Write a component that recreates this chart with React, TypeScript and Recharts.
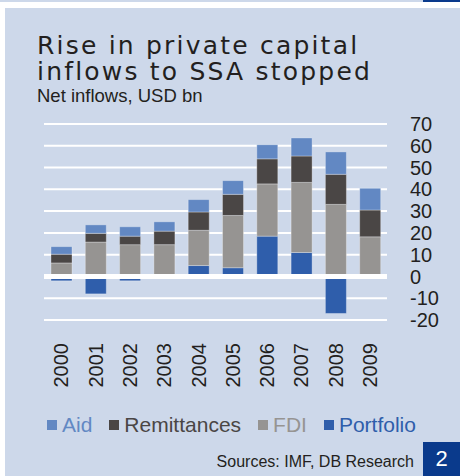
import { Bar, BarChart, CartesianGrid, ReferenceLine, XAxis, YAxis } from "recharts";

const years = ["2000", "2001", "2002", "2003", "2004", "2005", "2006", "2007", "2008", "2009"];
const portfolio = [-2, -8, -2, 0, 5, 4, 18.5, 11, -17, 0];
const fdi = [6.2, 15.8, 14.6, 14.6, 16.2, 24, 24, 32.2, 33.1, 18.2];
const remittances = [4, 4, 3.9, 6.2, 8.4, 9.7, 11.5, 12.1, 13.8, 12.3];
const aid = [3.5, 3.9, 4.3, 4.3, 5.7, 6.3, 6.5, 8.3, 10.3, 10];
const yTicks = [-20, -10, 0, 10, 20, 30, 40, 50, 60, 70];

const series = [
  { key: "aid", name: "Aid", color: "#6288c3" },
  { key: "remittances", name: "Remittances", color: "#4a4645" },
  { key: "fdi", name: "FDI", color: "#969492" },
  { key: "portfolio", name: "Portfolio", color: "#2f5eab" },
];

const data = years.map((year, i) => ({
  year,
  portfolio: portfolio[i],
  fdi: fdi[i],
  remittances: remittances[i],
  aid: aid[i],
}));

const BG = "#cdd8ea";
const TEXT = "#231f20";
const FONT = "'Liberation Sans', Arial, sans-serif";

function YearTick({ x, y, payload }: any) {
  return (
    <text
      x={x}
      y={y}
      transform={`rotate(-90 ${x} ${y})`}
      textAnchor="end"
      dy="0.36em"
      fontSize={20}
      fontFamily={FONT}
      fill={TEXT}
    >
      {payload.value}
    </text>
  );
}

const titleStyle = {
  position: "absolute" as const,
  left: 37,
  fontFamily: "'DejaVu Sans', sans-serif",
  fontSize: 25,
  lineHeight: "26px",
  height: 26,
  letterSpacing: 2.2,
  color: TEXT,
  whiteSpace: "nowrap" as const,
};

export default function App() {
  // stack order bottom -> top
  const stack = ["portfolio", "fdi", "remittances", "aid"];
  return (
    <div style={{ position: "absolute", left: 0, top: 0, width: 460, height: 476, background: "#fff", overflow: "hidden", fontFamily: FONT }}>
      <div style={{ position: "absolute", left: 0, top: 0, width: 460, height: 2, background: BG }} />
      <div style={{ position: "absolute", left: 423, top: 0, width: 37, height: 2, background: "#0a3a8c" }} />
      <div style={{ position: "absolute", left: 5, top: 8, width: 455, height: 468, background: BG }} />

      <div style={{ ...titleStyle, top: 33 }}>Rise in private capital</div>
      <div style={{ ...titleStyle, top: 59 }}>inflows to SSA stopped</div>
      <div style={{ position: "absolute", left: 37, top: 86, fontSize: 18.5, lineHeight: "19px", color: TEXT, whiteSpace: "nowrap" }}>
        Net inflows, USD bn
      </div>

      <div style={{ position: "absolute", left: 0, top: 0 }}>
        <BarChart
          width={460}
          height={476}
          data={data}
          stackOffset="sign"
          margin={{ top: 124, right: 13, left: 44, bottom: 96 }}
        >
          <CartesianGrid vertical={false} stroke="#ffffff" strokeWidth={2} />
          <XAxis
            dataKey="year"
            axisLine={false}
            tickLine={false}
            height={60}
            interval={0}
            tickMargin={17}
            tick={<YearTick />}
          />
          <YAxis
            orientation="right"
            domain={[-20, 70]}
            ticks={yTicks}
            interval={0}
            axisLine={false}
            tickLine={false}
            tickMargin={17}
            width={60}
            tick={{ fontSize: 20, fontFamily: FONT, fill: TEXT }}
          />
          {stack.map((k) => {
            const s = series.find((e) => e.key === k)!;
            return (
              <Bar
                key={k}
                dataKey={k}
                name={s.name}
                stackId="a"
                fill={s.color}
                stroke="rgba(255,255,255,0.3)"
                strokeWidth={1}
                barSize={21}
                isAnimationActive={false}
              />
            );
          })}
          <ReferenceLine y={0} stroke="#ffffff" strokeWidth={5} />
        </BarChart>
      </div>

      <div style={{ position: "absolute", left: 47, top: 413, display: "flex", alignItems: "center", gap: 17, whiteSpace: "nowrap" }}>
        {series.map((s) => (
          <div key={s.key} style={{ display: "flex", alignItems: "center", gap: 5 }}>
            <span style={{ width: 10, height: 10, background: s.color, display: "inline-block" }} />
            <span style={{ color: s.color, fontSize: 21, lineHeight: "24px" }}>{s.name}</span>
          </div>
        ))}
      </div>

      <div style={{ position: "absolute", right: 46, top: 452, fontSize: 16, lineHeight: "19px", color: TEXT, whiteSpace: "nowrap" }}>
        Sources: IMF, DB Research
      </div>
      <div
        style={{
          position: "absolute",
          left: 423,
          top: 442,
          width: 37,
          height: 34,
          background: "#0a3a8c",
          color: "#fff",
          fontSize: 22,
          lineHeight: "34px",
          textAlign: "center",
        }}
      >
        2
      </div>
    </div>
  );
}
